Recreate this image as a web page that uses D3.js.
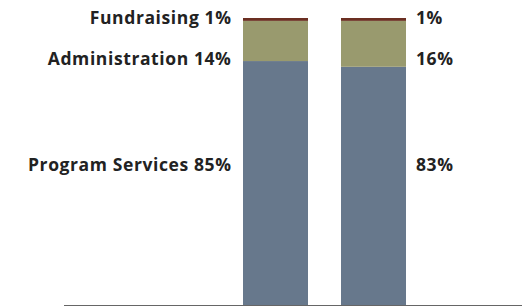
<!DOCTYPE html>
<html>
<head>
<meta charset="utf-8">
<script src="https://cdn.jsdelivr.net/npm/d3@7.9.0/dist/d3.min.js"></script>
<style>
  html, body { margin: 0; padding: 0; background: #fff; }
  svg { display: block; }
  text { font-family: "Open Sans", sans-serif; font-weight: 700; fill: #222; letter-spacing: 0.6px; }
</style>
</head>
<body>
<svg id="chart" width="522" height="306"></svg>
<script>
// two years of expense breakdown, percent of total
const years = ['Prior Year', 'Current Year'];
const segments = ['Program Services', 'Administration', 'Fundraising'];
const programServices = [85, 83];
const administration = [14, 16];
const fundraising = [1, 1];

const colors = ['#67788c', '#999a6e', '#6b2f22'];

const svg = d3.select('#chart');

const x = d3.scaleBand()
  .domain(years)
  .range([243, 406])
  .paddingInner(33 / 98)
  .paddingOuter(0);

const y = d3.scaleLinear()
  .domain([0, 100])
  .range([305, 18]);

// build rows for the stack
const rows = years.map((yr, i) => ({
  year: yr,
  'Program Services': programServices[i],
  'Administration': administration[i],
  'Fundraising': fundraising[i]
}));

const stack = d3.stack().keys(segments)(rows);

svg.selectAll('g.layer')
  .data(stack)
  .join('g')
  .attr('class', 'layer')
  .attr('fill', (d, i) => colors[i])
  .selectAll('rect')
  .data(d => d)
  .join('rect')
  .attr('x', d => x(d.data.year))
  .attr('y', d => y(d[1]))
  .attr('width', x.bandwidth())
  .attr('height', d => y(d[0]) - y(d[1]));

// baseline
svg.append('line')
  .attr('x1', 64)
  .attr('x2', 522)
  .attr('y1', y(0) + 0.5)
  .attr('y2', y(0) + 0.5)
  .attr('stroke', '#666')
  .attr('stroke-width', 1.2);

// label anchor values (where each label sits on the percent scale)
const labelDy = [-12, 5, 5.5];
const labelAt = [
  s => (s[0][0] + s[0][1]) / 2,   // program: middle of segment
  s => s[0][0] + 0.5,             // administration: near its base
  s => s[0][1]                    // fundraising: top of bar
];

// letter-spacing leaves a trailing gap, so nudge the right-aligned text
const leftX = x(years[0]) - 11.5;
const rightX = x(years[1]) + x.bandwidth() + 10;

stack.forEach((s, i) => {
  const yy = y(labelAt[i](s)) + labelDy[i];
  svg.append('text')
    .attr('x', leftX)
    .attr('y', yy)
    .attr('text-anchor', 'end')
    .attr('font-size', 17.5)
    .text(`${segments[i]} ${s[0].data[segments[i]]}%`);
  svg.append('text')
    .attr('x', rightX)
    .attr('y', yy)
    .attr('font-size', 17.5)
    .text(`${s[1].data[segments[i]]}%`);
});
</script>
</body>
</html>
